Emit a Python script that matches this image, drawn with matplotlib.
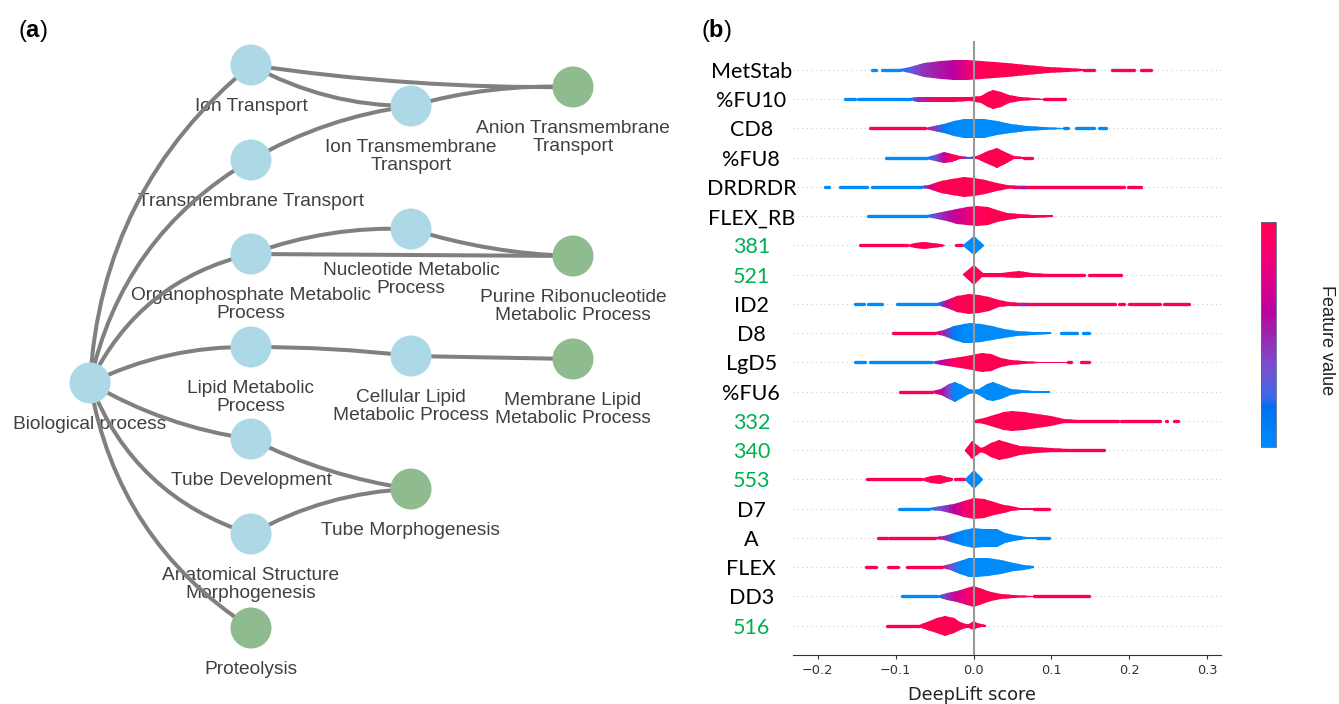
import numpy as np
import matplotlib
matplotlib.use('Agg')
import matplotlib.pyplot as plt
from matplotlib.patches import Circle, Polygon, FancyArrowPatch
from matplotlib.colors import LinearSegmentedColormap, Normalize
from matplotlib.cm import ScalarMappable

plt.rcParams['mathtext.fontset'] = 'custom'
plt.rcParams['mathtext.rm'] = 'Liberation Sans'
plt.rcParams['mathtext.bf'] = 'Liberation Sans:bold'

# ---------------- panel (a): GO term graph ----------------
terms = ['Biological process', 'Ion Transport', 'Transmembrane Transport',
         'Organophosphate Metabolic Process', 'Lipid Metabolic Process',
         'Tube Development', 'Anatomical Structure Morphogenesis', 'Proteolysis',
         'Ion Transmembrane Transport', 'Nucleotide Metabolic Process',
         'Cellular Lipid Metabolic Process', 'Tube Morphogenesis',
         'Anion Transmembrane Transport', 'Purine Ribonucleotide Metabolic Process',
         'Membrane Lipid Metabolic Process']
leaf_terms = ['Proteolysis', 'Tube Morphogenesis', 'Anion Transmembrane Transport',
              'Purine Ribonucleotide Metabolic Process', 'Membrane Lipid Metabolic Process']
edges = [('Biological process', 'Ion Transport'),
         ('Biological process', 'Transmembrane Transport'),
         ('Biological process', 'Organophosphate Metabolic Process'),
         ('Biological process', 'Lipid Metabolic Process'),
         ('Biological process', 'Tube Development'),
         ('Biological process', 'Anatomical Structure Morphogenesis'),
         ('Biological process', 'Proteolysis'),
         ('Ion Transport', 'Anion Transmembrane Transport'),
         ('Ion Transport', 'Ion Transmembrane Transport'),
         ('Transmembrane Transport', 'Ion Transmembrane Transport'),
         ('Ion Transmembrane Transport', 'Anion Transmembrane Transport'),
         ('Organophosphate Metabolic Process', 'Nucleotide Metabolic Process'),
         ('Organophosphate Metabolic Process', 'Purine Ribonucleotide Metabolic Process'),
         ('Nucleotide Metabolic Process', 'Purine Ribonucleotide Metabolic Process'),
         ('Lipid Metabolic Process', 'Cellular Lipid Metabolic Process'),
         ('Cellular Lipid Metabolic Process', 'Membrane Lipid Metabolic Process'),
         ('Tube Development', 'Tube Morphogenesis'),
         ('Anatomical Structure Morphogenesis', 'Tube Morphogenesis')]
wrapped = {'Ion Transmembrane Transport': 'Ion Transmembrane\nTransport',
           'Anion Transmembrane Transport': 'Anion Transmembrane\nTransport',
           'Nucleotide Metabolic Process': 'Nucleotide Metabolic\nProcess',
           'Organophosphate Metabolic Process': 'Organophosphate Metabolic\nProcess',
           'Purine Ribonucleotide Metabolic Process': 'Purine Ribonucleotide\nMetabolic Process',
           'Lipid Metabolic Process': 'Lipid Metabolic\nProcess',
           'Cellular Lipid Metabolic Process': 'Cellular Lipid\nMetabolic Process',
           'Membrane Lipid Metabolic Process': 'Membrane Lipid\nMetabolic Process',
           'Anatomical Structure Morphogenesis': 'Anatomical Structure\nMorphogenesis'}

# layout (pixel units of the left panel) and edge bend
layout = {'Biological process': (90, 383), 'Ion Transport': (251, 65),
          'Transmembrane Transport': (251, 160), 'Organophosphate Metabolic Process': (251, 254),
          'Lipid Metabolic Process': (251, 347), 'Tube Development': (251, 439),
          'Anatomical Structure Morphogenesis': (251, 534), 'Proteolysis': (251, 628),
          'Ion Transmembrane Transport': (411, 106), 'Nucleotide Metabolic Process': (411, 229),
          'Cellular Lipid Metabolic Process': (411, 356), 'Tube Morphogenesis': (411, 489),
          'Anion Transmembrane Transport': (573, 87),
          'Purine Ribonucleotide Metabolic Process': (573, 256),
          'Membrane Lipid Metabolic Process': (573, 359)}
edge_bend = [-0.22, -0.22, -0.24, -0.12, 0.10, 0.24, 0.22,
             0.04, 0.13, -0.10, -0.08, -0.10, 0.0, 0.07, -0.03, 0.0, 0.08, -0.12]

# ---------------- panel (b): DeepLift violin summary ----------------
features = ['MetStab', '%FU10', 'CD8', '%FU8', 'DRDRDR', 'FLEX_RB', '381', '521', 'ID2', 'D8',
            'LgD5', '%FU6', '332', '340', '553', 'D7', 'A', 'FLEX', 'DD3', '516']
green_features = ['381', '521', '332', '340', '553', '516']
xticks = [-0.2, -0.1, 0.0, 0.1, 0.2, 0.3]

# violin outline: score knots, half width (rows) and smoothed feature value (0 low, 1 high)
shape_x = {
    'MetStab': [-0.094, -0.081, -0.064, -0.042, -0.025, -0.008, 0.009, 0.026, 0.043, 0.069, 0.095, 0.121, 0.142],
    '%FU10': [-0.081, -0.072, -0.051, -0.025, -0.004, 0.009, 0.018, 0.025, 0.035, 0.045, 0.060, 0.078, 0.091],
    'CD8': [-0.062, -0.051, -0.038, -0.025, -0.012, 0.000, 0.013, 0.030, 0.048, 0.069, 0.091, 0.116],
    '%FU8': [-0.060, -0.049, -0.038, -0.027, -0.017, -0.006, 0.005, 0.018, 0.030, 0.041, 0.052, 0.065],
    'DRDRDR': [-0.068, -0.057, -0.042, -0.027, -0.012, 0.000, 0.015, 0.030, 0.043, 0.060],
    'FLEX_RB': [-0.060, -0.047, -0.034, -0.021, -0.008, 0.005, 0.018, 0.030, 0.043, 0.060, 0.078, 0.102],
    '381': [-0.085, -0.075, -0.064, -0.053, -0.042, -0.038, -0.036, -0.015, -0.014, 0.000, 0.014],
    '521': [-0.014, 0.000, 0.012, 0.020, 0.035, 0.058, 0.075, 0.095, 0.120, 0.142],
    'ID2': [-0.047, -0.034, -0.021, -0.006, 0.007, 0.020, 0.033, 0.045, 0.060],
    'D8': [-0.049, -0.038, -0.025, -0.012, -0.004, 0.009, 0.024, 0.039, 0.056, 0.078, 0.099],
    'LgD5': [-0.055, -0.042, -0.025, -0.008, 0.005, 0.011, 0.022, 0.035, 0.048, 0.065, 0.086, 0.121],
    '%FU6': [-0.053, -0.042, -0.032, -0.024, -0.015, -0.006, 0.000, 0.007, 0.017, 0.025, 0.035, 0.048, 0.063, 0.078, 0.098],
    '332': [0.002, 0.013, 0.026, 0.039, 0.050, 0.065, 0.082, 0.099, 0.116, 0.133, 0.163],
    '340': [-0.011, -0.002, 0.009, 0.014, 0.022, 0.033, 0.045, 0.060, 0.080, 0.100, 0.120, 0.140, 0.160],
    '553': [-0.068, -0.055, -0.043, -0.034, -0.028, -0.026, -0.012, -0.011, 0.000, 0.012],
    'D7': [-0.057, -0.042, -0.025, -0.012, 0.000, 0.013, 0.026, 0.039, 0.048, 0.060, 0.078],
    'A': [-0.049, -0.038, -0.025, -0.012, 0.000, 0.012, 0.022, 0.030, 0.040, 0.052, 0.069, 0.082],
    'FLEX': [-0.040, -0.030, -0.017, -0.006, 0.005, 0.018, 0.035, 0.052, 0.065, 0.078],
    'DD3': [-0.047, -0.034, -0.021, -0.008, 0.000, 0.011, 0.022, 0.035, 0.052, 0.078],
    '516': [-0.070, -0.060, -0.047, -0.036, -0.025, -0.017, -0.010, -0.006, 0.000, 0.005, 0.010, 0.016],
}
shape_w = {
    'MetStab': [0.03, 0.11, 0.23, 0.31, 0.34, 0.34, 0.31, 0.27, 0.23, 0.16, 0.10, 0.06, 0.02],
    '%FU10': [0.03, 0.08, 0.09, 0.08, 0.06, 0.12, 0.26, 0.33, 0.26, 0.13, 0.06, 0.03, 0.02],
    'CD8': [0.03, 0.09, 0.16, 0.25, 0.33, 0.34, 0.31, 0.24, 0.16, 0.09, 0.05, 0.02],
    '%FU8': [0.03, 0.10, 0.19, 0.13, 0.05, 0.03, 0.06, 0.22, 0.34, 0.20, 0.06, 0.03],
    'DRDRDR': [0.03, 0.08, 0.19, 0.28, 0.34, 0.32, 0.24, 0.14, 0.07, 0.03],
    'FLEX_RB': [0.03, 0.10, 0.17, 0.25, 0.30, 0.34, 0.30, 0.21, 0.12, 0.07, 0.05, 0.03],
    '381': [0.03, 0.08, 0.125, 0.08, 0.04, 0.03, 0.0, 0.0, 0.02, 0.34, 0.02],
    '521': [0.02, 0.34, 0.05, 0.05, 0.07, 0.12, 0.06, 0.04, 0.03, 0.02],
    'ID2': [0.03, 0.14, 0.26, 0.34, 0.32, 0.23, 0.12, 0.06, 0.03],
    'D8': [0.04, 0.11, 0.23, 0.32, 0.34, 0.31, 0.24, 0.16, 0.09, 0.05, 0.03],
    'LgD5': [0.03, 0.07, 0.14, 0.23, 0.30, 0.34, 0.29, 0.16, 0.07, 0.04, 0.03, 0.02],
    '%FU6': [0.03, 0.11, 0.25, 0.34, 0.22, 0.09, 0.06, 0.11, 0.28, 0.33, 0.24, 0.10, 0.05, 0.04, 0.03],
    '332': [0.03, 0.09, 0.22, 0.31, 0.34, 0.31, 0.23, 0.16, 0.08, 0.04, 0.03],
    '340': [0.02, 0.30, 0.06, 0.10, 0.24, 0.34, 0.26, 0.16, 0.10, 0.07, 0.05, 0.03, 0.02],
    '553': [0.03, 0.11, 0.16, 0.09, 0.04, 0.0, 0.0, 0.02, 0.34, 0.02],
    'D7': [0.03, 0.09, 0.17, 0.27, 0.35, 0.32, 0.23, 0.14, 0.08, 0.04, 0.03],
    'A': [0.03, 0.08, 0.17, 0.26, 0.34, 0.31, 0.32, 0.30, 0.18, 0.09, 0.05, 0.03],
    'FLEX': [0.03, 0.11, 0.23, 0.32, 0.33, 0.30, 0.24, 0.14, 0.08, 0.03],
    'DD3': [0.03, 0.11, 0.20, 0.29, 0.35, 0.25, 0.16, 0.09, 0.05, 0.03],
    '516': [0.03, 0.13, 0.25, 0.34, 0.25, 0.13, 0.07, 0.06, 0.15, 0.08, 0.05, 0.03],
}
shape_c = {
    'MetStab': [0.05, 0.3, 0.45, 0.55, 0.6, 0.8, 0.97, 1, 1, 1, 1, 1, 1],
    '%FU10': [0.05, 0.45, 0.9, 1, 1, 1, 1, 1, 1, 1, 1, 1, 1],
    'CD8': [0.85, 0.45, 0.1, 0, 0, 0, 0, 0, 0, 0, 0, 0],
    '%FU8': [0.05, 0.35, 0.65, 0.95, 1, 0.2, 1, 1, 1, 1, 1, 1],
    'DRDRDR': [0.1, 0.7, 1, 1, 1, 1, 1, 1, 1, 1],
    'FLEX_RB': [0.05, 0.4, 0.55, 0.65, 0.8, 0.95, 1, 1, 1, 1, 1, 1],
    '381': [1, 1, 1, 1, 1, 1, 1, 1, 0, 0, 0],
    '521': [1, 1, 1, 1, 1, 1, 1, 1, 1, 1],
    'ID2': [0.1, 0.7, 1, 1, 1, 1, 1, 1, 1],
    'D8': [0.9, 0.5, 0.1, 0, 0, 0, 0, 0, 0, 0, 0],
    'LgD5': [0.1, 0.6, 0.95, 1, 1, 1, 1, 1, 1, 1, 1, 1],
    '%FU6': [0.95, 0.6, 0.35, 0.02, 0, 0, 0, 0, 0, 0, 0, 0, 0, 0, 0],
    '332': [1, 1, 1, 1, 1, 1, 1, 1, 1, 1, 1],
    '340': [1, 1, 1, 1, 1, 1, 1, 1, 1, 1, 1, 1, 1],
    '553': [1, 1, 1, 1, 1, 1, 1, 0, 0, 0],
    'D7': [0.05, 0.35, 0.6, 0.85, 1, 1, 1, 1, 1, 1, 1],
    'A': [0.9, 0.5, 0.1, 0, 0, 0, 0, 0, 0, 0, 0, 0],
    'FLEX': [0.85, 0.35, 0.02, 0, 0, 0, 0, 0, 0, 0],
    'DD3': [0.1, 0.45, 0.7, 0.85, 1, 1, 1, 1, 1, 1],
    '516': [1, 1, 1, 1, 1, 1, 1, 1, 1, 1, 1, 1],
}
# runs of individual points outside the violins: (start, end, feature value)
dot_runs = {
    'MetStab': [(-0.130, -0.125, 0), (-0.117, -0.094, 0), (0.142, 0.155, 1), (0.159, 0.159, 1),
                (0.178, 0.206, 1), (0.215, 0.228, 1)],
    '%FU10': [(-0.165, -0.152, 0), (-0.148, -0.081, 0), (0.091, 0.118, 1)],
    'CD8': [(-0.133, -0.062, 1), (0.116, 0.121, 0), (0.131, 0.155, 0), (0.161, 0.170, 0)],
    '%FU8': [(-0.112, -0.060, 0), (0.065, 0.075, 1)],
    'DRDRDR': [(-0.208, -0.208, 0), (-0.190, -0.186, 0), (-0.180, -0.180, 0), (-0.171, -0.137, 0),
               (-0.130, -0.068, 0), (0.060, 0.193, 1), (0.051, 0.068, 0.55), (0.198, 0.215, 1),
               (0.228, 0.228, 1)],
    'FLEX_RB': [(-0.135, -0.060, 0)],
    '381': [(-0.146, -0.085, 1), (-0.022, -0.015, 1)],
    '521': [(0.0, 0.142, 1), (0.148, 0.189, 1)],
    'ID2': [(-0.152, -0.141, 0), (-0.135, -0.118, 0), (-0.112, -0.112, 0), (-0.098, -0.047, 0),
            (0.060, 0.181, 1), (0.048, 0.068, 0.5), (0.187, 0.193, 1), (0.200, 0.239, 1),
            (0.245, 0.277, 1), (0.286, 0.286, 1)],
    'D8': [(-0.103, -0.049, 1), (0.099, 0.099, 0), (0.112, 0.133, 0), (0.140, 0.148, 0)],
    'LgD5': [(-0.152, -0.139, 0), (-0.133, -0.055, 0), (0.121, 0.125, 1), (0.138, 0.148, 1)],
    '%FU6': [(-0.094, -0.053, 1)],
    '332': [(0.0, 0.185, 1), (0.0, 0.0, 0), (0.189, 0.239, 1), (0.247, 0.249, 1),
            (0.258, 0.262, 1), (0.271, 0.271, 1), (0.292, 0.292, 1)],
    '340': [(-0.010, 0.168, 1)],
    '553': [(-0.137, -0.068, 1), (-0.024, -0.012, 1), (-0.027, -0.027, 0)],
    'D7': [(-0.095, -0.057, 0), (0.078, 0.097, 1), (0.103, 0.103, 1), (0.114, 0.114, 1)],
    'A': [(-0.123, -0.111, 1), (-0.108, -0.049, 1), (0.082, 0.097, 0)],
    'FLEX': [(-0.138, -0.125, 1), (-0.110, -0.097, 1), (-0.093, -0.093, 1), (-0.086, -0.040, 1)],
    'DD3': [(-0.102, -0.102, 0), (-0.092, -0.047, 0), (0.078, 0.148, 1), (0.161, 0.161, 1)],
    '516': [(-0.118, -0.118, 1), (-0.111, -0.070, 1)],
}


# shap-style red/blue colormap (LCH blend, lightness dips in the middle)
def lch2rgb(l, c, h):
    a, b = c * np.cos(h), c * np.sin(h)
    fy = (l + 16) / 116
    f = np.array([fy + a / 500, fy, fy - b / 200])
    t = np.where(f > 6 / 29, f ** 3, 3 * (6 / 29) ** 2 * (f - 4 / 29))
    xyz = t * np.array([0.95047, 1.0, 1.08883])
    m = np.array([[3.2406, -1.5372, -0.4986], [-0.9689, 1.8758, 0.0415], [0.0557, -0.2040, 1.0570]])
    rgb = m @ xyz
    rgb = np.where(rgb > 0.0031308, 1.055 * np.abs(rgb) ** (1 / 2.4) - 0.055, 12.92 * rgb)
    return np.clip(rgb, 0, 1)


n = 100
l_vals = np.r_[np.linspace(54, 40, n // 2), np.linspace(40, 54, n // 2)]
c_vals = np.linspace(70, 90, n)
h_vals = np.linspace(4.6588, 0.35470565 + 2 * np.pi, n)
red_blue = LinearSegmentedColormap.from_list(
    'red_blue', [lch2rgb(l, c, h) for l, c, h in zip(l_vals, c_vals, h_vals)])

W, H = 1339, 704
fig = plt.figure(figsize=(W / 100, H / 100), dpi=100)

# ---- (a)
axa = fig.add_axes([0, 0, 680 / W, 1])
axa.set_xlim(0, 680)
axa.set_ylim(H, 0)
axa.axis('off')
for (u, v), bend in zip(edges, edge_bend):
    e = FancyArrowPatch(layout[u], layout[v], arrowstyle='-', connectionstyle=f'arc3,rad={bend}',
                        shrinkA=0, shrinkB=0, lw=2.9, color='#808080', zorder=2)
    axa.add_patch(e)
for t in terms:
    x, y = layout[t]
    col = '#8fbc8f' if t in leaf_terms else '#add8e6'
    axa.add_patch(Circle((x, y), 20.5, facecolor=col, edgecolor='none', zorder=3))
    axa.text(x, y + 33, wrapped.get(t, t), ha='center', va='top', fontsize=13.8,
             color='#404040', family='Liberation Sans', linespacing=1.08, zorder=1)

fig.text(18 / W, 1 - 31 / H, r'($\mathbf{a}$)', fontsize=17, family='Liberation Sans',
         ha='left', va='center')
fig.text(701 / W, 1 - 30 / H, r'($\mathbf{b}$)', fontsize=17, family='Liberation Sans',
         ha='left', va='center')

# ---- (b)
ax = fig.add_axes([793 / W, 1 - 655 / H, 428 / W, 614.3 / H])
ax.set_xlim(-0.2317, 0.3177)
ax.set_ylim(-1, len(features))
nf = len(features)
for i, f in enumerate(features):
    pos = nf - 1 - i
    ax.axhline(pos, color='#cccccc', lw=0.8, dashes=(1, 3), zorder=-1)
    for x0, x1, v in dot_runs[f]:
        ax.plot([x0, x1], [pos, pos], color=red_blue(float(v)), lw=2.4,
                solid_capstyle='round', zorder=1)
    xs = np.array(shape_x[f])
    ws = np.array(shape_w[f])
    cs = np.array(shape_c[f], dtype=float)
    verts = np.column_stack([np.r_[xs, xs[::-1]], np.r_[pos + ws, (pos - ws)[::-1]]])
    poly = Polygon(verts, closed=True, transform=ax.transData)
    X = np.vstack([xs, xs])
    Y = np.vstack([np.full(len(xs), pos - 0.4), np.full(len(xs), pos + 0.4)])
    mesh = ax.pcolormesh(X, Y, np.vstack([cs, cs]), cmap=red_blue, vmin=0, vmax=1,
                         shading='gouraud', zorder=2)
    mesh.set_clip_path(poly)
ax.axvline(0, color='#999999', lw=1.5, zorder=3)

for s in ['top', 'right', 'left']:
    ax.spines[s].set_visible(False)
ax.spines['bottom'].set_color('#333333')
ax.set_xticks(xticks)
ax.tick_params(axis='x', labelsize=9.3, colors='#333333', length=3)
ax.set_yticks(range(nf))
ax.set_yticklabels(features[::-1], fontsize=15.5, family='Lato')
ax.tick_params(axis='y', length=0, pad=30)
for lbl in ax.get_yticklabels():
    lbl.set_horizontalalignment('center')
    lbl.set_color('#00b050' if lbl.get_text() in green_features else '#000000')
ax.set_xlabel('DeepLift score', fontsize=12.8, color='#222222')
ax.xaxis.set_label_coords(0.418, -0.05)

cax = fig.add_axes([1261 / W, 1 - 447 / H, 15 / W, 225 / H])
cb = fig.colorbar(ScalarMappable(norm=Normalize(0, 1), cmap=red_blue), cax=cax, ticks=[])
cb.outline.set_linewidth(0.6)
cb.outline.set_edgecolor('#556688')
fig.text(1327 / W, 1 - 340 / H, 'Feature value', rotation=270, ha='center', va='center',
         fontsize=13, family='Liberation Sans', color='#222222')

fig.savefig('out.png', dpi=100)
